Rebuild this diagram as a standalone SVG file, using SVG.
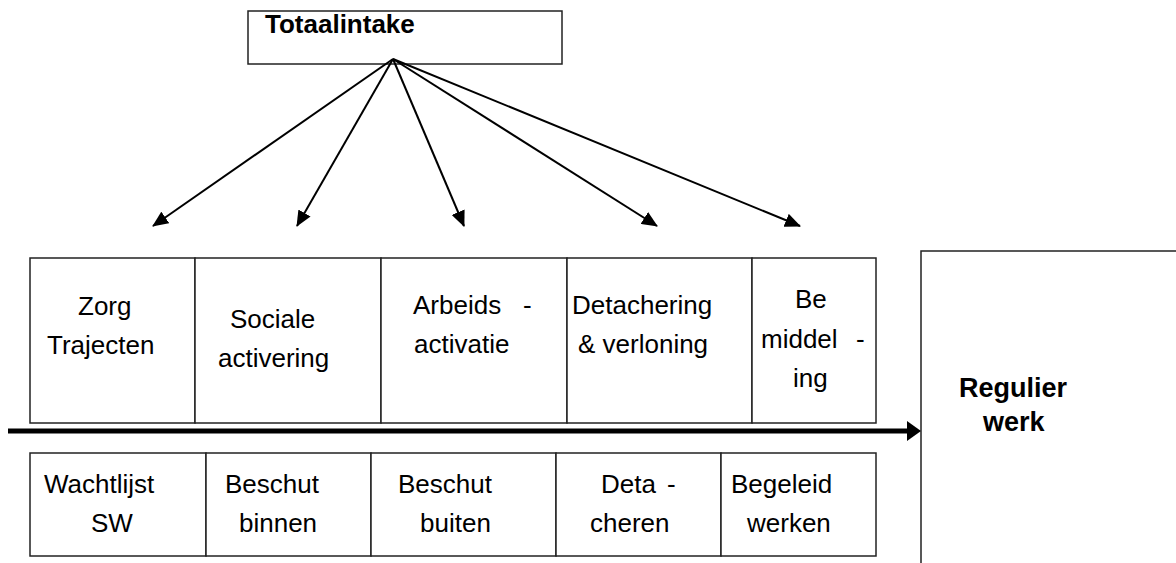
<svg xmlns="http://www.w3.org/2000/svg" width="1176" height="563" viewBox="0 0 1176 563">
<style>
.box{fill:#fff;stroke:#222;stroke-width:1.5}
.t{font-family:"Liberation Sans",Arial,sans-serif;font-size:26px;fill:#000}
.b{font-family:"Liberation Sans",Arial,sans-serif;font-size:26px;font-weight:bold;fill:#000}
.c{stroke:#000;stroke-width:2;fill:none}
</style>
<defs>
<marker id="ah" markerUnits="userSpaceOnUse" markerWidth="16" markerHeight="14" refX="15" refY="7" orient="auto">
<path d="M0,0 L16,7 L0,14 z" fill="#000"/>
</marker>
</defs>
<g id="totaalintake">
<rect class="box" x="248" y="11" width="314" height="53"/>
<text class="b" x="265" y="33">Totaalintake</text>
</g>
<g id="zorg">
<rect class="box" x="30" y="258" width="165" height="165"/>
<text class="t" x="78" y="315">Zorg</text>
<text class="t" x="47" y="354">Trajecten</text>
</g>
<g id="sociale">
<rect class="box" x="195" y="258" width="186" height="165"/>
<text class="t" x="230" y="328">Sociale</text>
<text class="t" x="218" y="367">activering</text>
</g>
<g id="arbeids">
<rect class="box" x="381" y="258" width="186" height="165"/>
<text class="t" x="413" y="314">Arbeids <tspan x="523">-</tspan></text>
<text class="t" x="414" y="353">activatie</text>
</g>
<g id="detachering">
<rect class="box" x="567" y="258" width="185" height="165"/>
<text class="t" x="572" y="314">Detachering</text>
<text class="t" x="578" y="353">&amp; verloning</text>
</g>
<g id="bemiddeling">
<rect class="box" x="752" y="258" width="124" height="165"/>
<text class="t" x="795" y="308">Be</text>
<text class="t" x="761" y="348">middel <tspan x="856">-</tspan></text>
<text class="t" x="793" y="387">ing</text>
</g>
<g id="wachtlijst">
<rect class="box" x="30" y="453" width="176" height="103"/>
<text class="t" x="44" y="493">Wachtlijst</text>
<text class="t" x="91" y="532">SW</text>
</g>
<g id="beschut-binnen">
<rect class="box" x="206" y="453" width="165" height="103"/>
<text class="t" x="225" y="493">Beschut</text>
<text class="t" x="239" y="532">binnen</text>
</g>
<g id="beschut-buiten">
<rect class="box" x="371" y="453" width="185" height="103"/>
<text class="t" x="398" y="493">Beschut</text>
<text class="t" x="420" y="532">buiten</text>
</g>
<g id="detacheren">
<rect class="box" x="556" y="453" width="165" height="103"/>
<text class="t" x="601" y="493">Deta <tspan x="667">-</tspan></text>
<text class="t" x="590" y="532">cheren</text>
</g>
<g id="begeleid">
<rect class="box" x="721" y="453" width="155" height="103"/>
<text class="t" x="731" y="493">Begeleid</text>
<text class="t" x="747" y="532">werken</text>
</g>
<g id="regulier">
<rect class="box" x="921" y="251" width="300" height="350"/>
<text class="b" x="959" y="397" style="font-size:27px">Regulier</text>
<text class="b" x="983" y="431" style="font-size:27px">werk</text>
</g>
<g id="connectors">
<line class="c" x1="393" y1="59" x2="153" y2="226" marker-end="url(#ah)"/>
<line class="c" x1="393" y1="59" x2="297" y2="226" marker-end="url(#ah)"/>
<line class="c" x1="393" y1="59" x2="464" y2="226" marker-end="url(#ah)"/>
<line class="c" x1="393" y1="59" x2="657" y2="226" marker-end="url(#ah)"/>
<line class="c" x1="393" y1="59" x2="800" y2="226" marker-end="url(#ah)"/>
<line x1="8" y1="431" x2="910" y2="431" stroke="#000" stroke-width="5"/>
<path d="M907,421 L921,431 L907,441 z" fill="#000"/>
</g>
</svg>
